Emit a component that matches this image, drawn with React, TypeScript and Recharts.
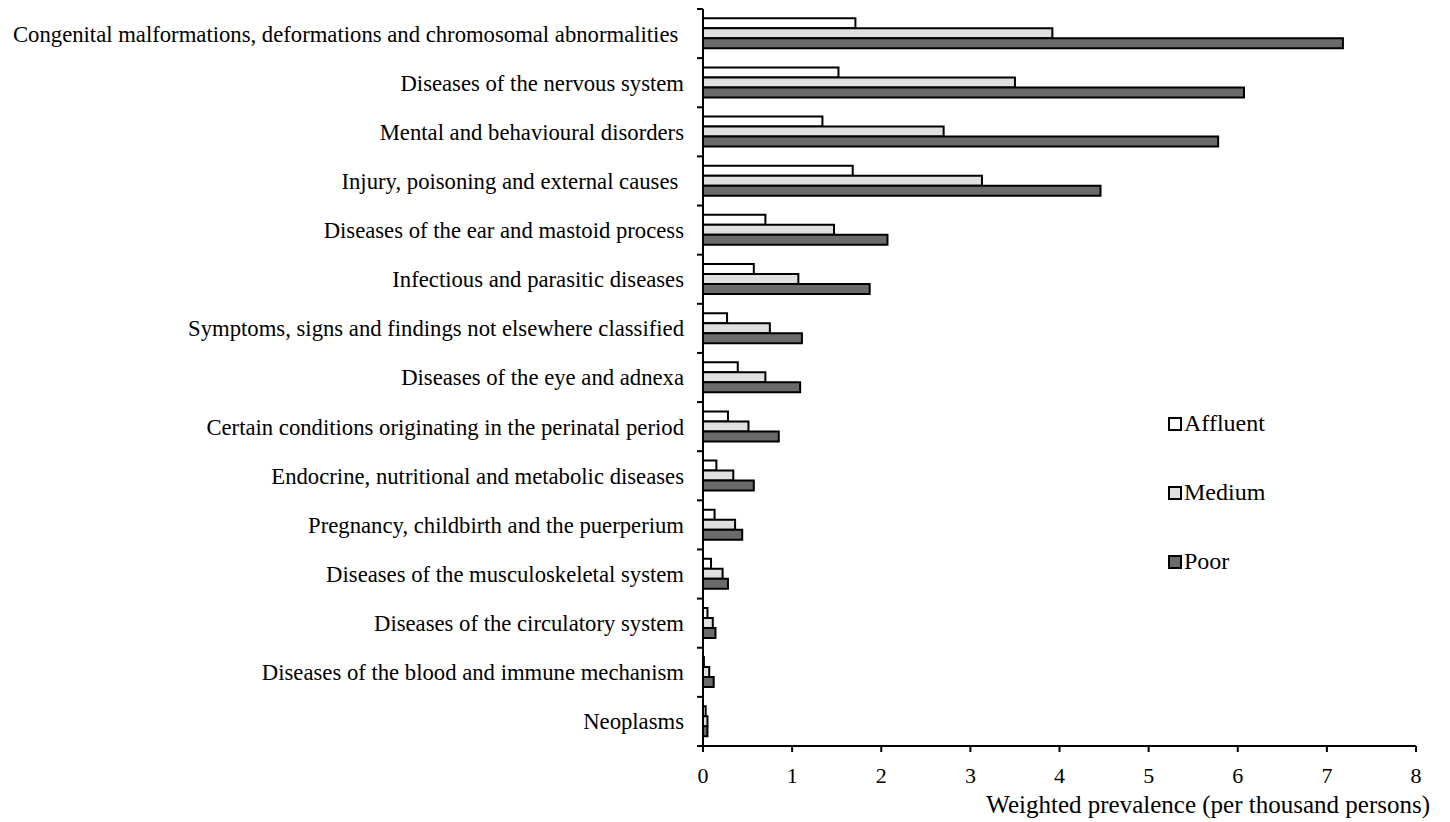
import React from "react";
import { BarChart, Bar, XAxis, YAxis, Legend } from "recharts";

const categories = [
  "Congenital malformations, deformations and chromosomal abnormalities ",
  "Diseases of the nervous system",
  "Mental and behavioural disorders",
  "Injury, poisoning and external causes ",
  "Diseases of the ear and mastoid process",
  "Infectious and parasitic diseases",
  "Symptoms, signs and findings not elsewhere classified",
  "Diseases of the eye and adnexa",
  "Certain conditions originating in the perinatal period",
  "Endocrine, nutritional and metabolic diseases",
  "Pregnancy, childbirth and the puerperium",
  "Diseases of the musculoskeletal system",
  "Diseases of the circulatory system",
  "Diseases of the blood and immune mechanism",
  "Neoplasms",
];

const affluent = [1.71, 1.52, 1.34, 1.68, 0.7, 0.57, 0.27, 0.39, 0.28, 0.15, 0.13, 0.09, 0.05, 0.01, 0.03];
const medium = [3.92, 3.5, 2.7, 3.13, 1.47, 1.07, 0.75, 0.7, 0.51, 0.34, 0.36, 0.22, 0.11, 0.07, 0.05];
const poor = [7.18, 6.07, 5.78, 4.46, 2.07, 1.87, 1.11, 1.09, 0.85, 0.57, 0.44, 0.28, 0.14, 0.12, 0.05];

const xTicks = [0, 1, 2, 3, 4, 5, 6, 7, 8];
const axisTitle = "Weighted prevalence (per thousand persons)";

const data = categories.map((c, i) => ({
  name: c,
  Affluent: affluent[i],
  Medium: medium[i],
  Poor: poor[i],
}));

const FONT = "'Liberation Serif', 'Times New Roman', serif";
const TICK_SIZE = 6;
const TICK_MARGIN = 13;

const CategoryTick = (props: any) => {
  const { x, y, payload, index, visibleTicksCount } = props;
  const ax = x + TICK_SIZE + TICK_MARGIN;
  const half = payload && typeof payload.offset === "number" ? payload.offset : 0;
  const isLast = index === visibleTicksCount - 1;
  return (
    <g>
      <line x1={ax - TICK_SIZE} x2={ax} y1={y - half} y2={y - half} stroke="#000" strokeWidth={2} />
      {isLast && <line x1={ax - TICK_SIZE} x2={ax} y1={y + half} y2={y + half} stroke="#000" strokeWidth={2} />}
      <text
        x={x}
        y={y}
        dy="0.35em"
        textAnchor="end"
        fontFamily={FONT}
        fontSize={22.7}
        fill="#000"
        style={{ whiteSpace: "pre" }}
      >
        {payload.value}
      </text>
    </g>
  );
};

const LegendContent = (props: any) => {
  const { payload } = props;
  return (
    <div style={{ fontFamily: FONT, fontSize: 24, color: "#000" }}>
      {(payload || []).map((p: any, i: number) => (
        <div key={i} style={{ display: "flex", alignItems: "center", height: 69 }}>
          <span
            style={{
              display: "inline-block",
              width: 10,
              height: 10,
              background: p.color,
              border: "2px solid #000",
              marginRight: 2,
            }}
          />
          <span>{p.value}</span>
        </div>
      ))}
    </div>
  );
};

const AxisTitle = (props: any) => {
  const { viewBox } = props;
  return (
    <text
      x={viewBox.x + viewBox.width + 14}
      y={viewBox.y + 67}
      textAnchor="end"
      fontFamily={FONT}
      fontSize={25}
      fill="#000"
    >
      {axisTitle}
    </text>
  );
};

export default function App() {
  return (
    <div style={{ width: 1450, height: 814, position: "relative", marginLeft: -8 }}>
      <BarChart
        width={1450}
        height={814}
        data={data}
        layout="vertical"
        margin={{ top: 1, right: 34, left: 0, bottom: 8 }}
        barCategoryGap="19%"
        barGap={0}
      >
        <XAxis
          type="number"
          domain={[0, 8]}
          ticks={xTicks}
          allowDataOverflow
          height={68}
          axisLine={{ stroke: "#000", strokeWidth: 2 }}
          tickLine={{ stroke: "#000", strokeWidth: 2 }}
          tickSize={6}
          tickMargin={15}
          tick={{ fontFamily: FONT, fontSize: 22, fill: "#000" }}
          label={<AxisTitle />}
        />
        <YAxis
          type="category"
          dataKey="name"
          width={703}
          axisLine={{ stroke: "#000", strokeWidth: 2 }}
          tickLine={false}
          tickSize={TICK_SIZE}
          tickMargin={TICK_MARGIN}
          interval={0}
          tick={<CategoryTick />}
        />
        <Legend
          layout="vertical"
          align="center"
          verticalAlign="middle"
          content={<LegendContent />}
          wrapperStyle={{ position: "absolute", left: 1168, top: 381, width: 130 }}
        />
        <Bar dataKey="Affluent" fill="#ffffff" stroke="#000" strokeWidth={2} isAnimationActive={false} />
        <Bar dataKey="Medium" fill="#e0e0e0" stroke="#000" strokeWidth={2} isAnimationActive={false} />
        <Bar dataKey="Poor" fill="#6b6b6b" stroke="#000" strokeWidth={2} isAnimationActive={false} />
      </BarChart>
    </div>
  );
}
